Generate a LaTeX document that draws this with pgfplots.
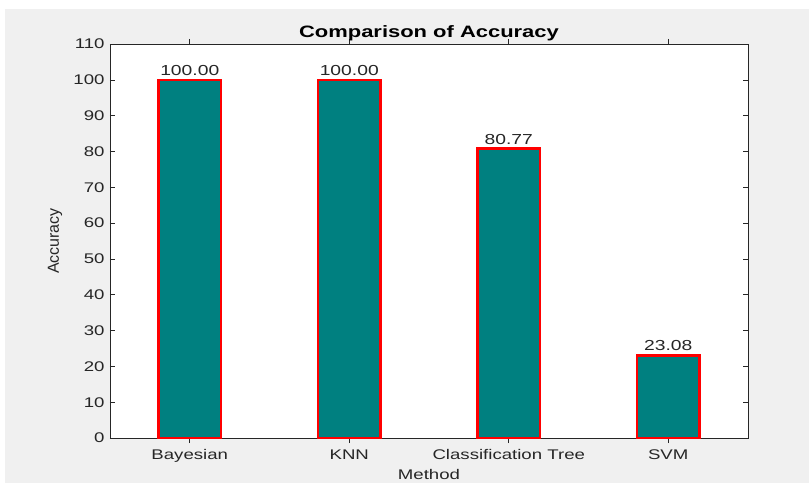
\documentclass[border=0pt]{standalone}
\usepackage{fontspec}
\setmainfont{Liberation Sans}[FakeStretch=1.33]
\newfontfamily\plainfont{Liberation Sans}
\usepackage{pgfplots}
\pgfplotsset{compat=1.18}
\definecolor{matbg}{RGB}{240,240,240}
\definecolor{matfg}{RGB}{38,38,38}
\definecolor{barteal}{RGB}{0,128,128}
\begin{document}
\begin{tikzpicture}[x=1pt,y=1pt]
\path[use as bounding box, fill=white] (0,0) rectangle (809,483);
\fill[matbg] (5,0) rectangle (809,474);
\begin{axis}[
  at={(110pt,45pt)}, anchor=south west,
  scale only axis, width=638pt, height=394pt,
  axis background/.style={fill=white},
  xmin=0.5, xmax=4.5, ymin=0, ymax=110,
  xtick={1,2,3,4},
  xticklabels={Bayesian,KNN,Classification Tree,SVM},
  ytick={0,10,...,110},
  tick align=inside, major tick length=5pt,
  tick style={matfg, line width=0.6pt},
  axis line style={matfg, line width=0.9pt},
  ticklabel style={font=\fontsize{14}{16}\selectfont, text=matfg},
  /pgf/number format/assume math mode=true,
  yticklabel style={xshift=-2pt},
  xticklabel style={yshift=-3pt},
  ybar, bar width=62pt,
  title={Comparison of Accuracy},
  title style={font=\fontsize{16.5}{19}\bfseries, text=black, at={(axis description cs:0.5,1)}, anchor=base, yshift=0pt},
  xlabel={Method},
  xlabel style={font=\fontsize{14}{16}\selectfont, text=matfg, at={(axis description cs:0.5,-0.093)}, anchor=center},
  ylabel={Accuracy},
  ylabel style={font=\plainfont\fontsize{16}{18}\selectfont, text=matfg, at={(axis description cs:-0.086,0.5)}, anchor=center, rotate=0},
  nodes near coords={\pgfmathprintnumber[fixed, fixed zerofill, precision=2]{\pgfplotspointmeta}},
  nodes near coords style={font=\fontsize{14.5}{16}\selectfont, text=matfg, anchor=base, yshift=4.5pt, inner sep=0pt, /pgf/number format/assume math mode=true},
]
\addplot[fill=barteal, draw=red, line width=2.5pt] coordinates {(1,100) (2,100) (3,80.77) (4,23.08)};
\end{axis}
\end{tikzpicture}
\end{document}
